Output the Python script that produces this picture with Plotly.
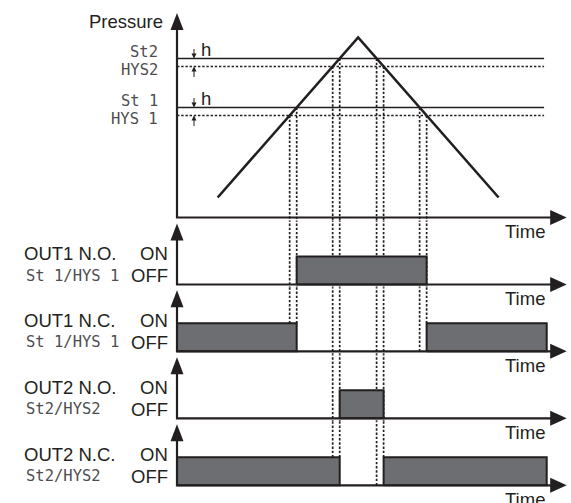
import plotly.graph_objects as go

# ---------------- data ----------------
ramp_time = [11.0, 49.0, 87.0]          # start, peak, end of the pressure ramp
ramp_pressure = [10.0, 90.0, 10.0]
st_levels = [55.0, 79.5]                # St1, St2
hys_levels = [51.0, 75.5]               # HYS1, HYS2
threshold_line_end = 99.3
time_end = 100.0
st_labels = ["St 1", "St2"]
hys_labels = ["HYS 1", "HYS2"]
output_names = ["OUT1 N.O.", "OUT1 N.C.", "OUT2 N.O.", "OUT2 N.C."]
output_params = ["St 1/HYS 1", "St 1/HYS 1", "St2/HYS2", "St2/HYS2"]
state_labels = ["ON", "OFF"]
axis_titles = ["Pressure", "Time", "h"]

# ---------------- layout constants (pixels) ----------------
W, H = 571, 503
X0_PX, PX_PER_T = 177.0, 3.697
PAD = 3.0
# (axis pixel row, pixels per unit)
panel_axis = [217.5, 284.5, 351.3, 418.3, 485.3]
panel_scale = [2.0, 28.0, 28.0, 28.0, 28.0]
INK = "#231f20"
BOX = "#6d6e71"
SEG = "#4d4d4f"
FONT = "Liberation Sans, Arial, sans-serif"
MONO = "DejaVu Sans Mono, monospace"
FS = 18.5
DOT = "2.4px,1.8px"
DOTW = 1.7

tops = [0.0] + [a + PAD for a in panel_axis[:-1]]
domains, yranges = [], []
for a, t, k in zip(panel_axis, tops, panel_scale):
    domains.append([1 - (a + PAD) / H, 1 - t / H])
    yranges.append([-PAD / k, (a - t) / k])

xrange_ = [-X0_PX / PX_PER_T, (W - X0_PX) / PX_PER_T]


def ax_names(i):
    return ("x", "y") if i == 0 else (f"x{i+1}", f"y{i+1}")


def px_y(i, y):
    return 1 - (panel_axis[i] - y * panel_scale[i]) / H


def px_x(t):
    return (X0_PX + t * PX_PER_T) / W


fig = go.Figure()


def add(i, **kw):
    xa, ya = ax_names(i)
    kw.setdefault("mode", "lines")
    kw.setdefault("hoverinfo", "skip")
    kw.setdefault("showlegend", False)
    fig.add_trace(go.Scatter(xaxis=xa, yaxis=ya, **kw))


# ---------------- derived events ----------------
t0, tp, te = ramp_time
p0, pp, _ = ramp_pressure


def rise(level):
    return t0 + (level - p0) / (pp - p0) * (tp - t0)


def fall(level):
    return tp + (pp - level) / (pp - p0) * (te - tp)


outputs = []
for st, hy in zip(st_levels, hys_levels):
    on, off = rise(st), fall(hy)
    outputs.append({"no": [(on, off)], "nc": [(0.0, on), (off, time_end)],
                    "events": [(rise(hy), hy), (on, st), (fall(st), st), (off, hy)]})

panel_states = [outputs[0]["no"], outputs[0]["nc"], outputs[1]["no"], outputs[1]["nc"]]
nc_panel = [2, 4]   # figure panel index of each output's N.C. chart


def state_at(intervals, t):
    return 1.0 if any(a - 1e-6 <= t <= b + 1e-6 for a, b in intervals) else 0.0


# ---------------- pressure panel ----------------
for hy in hys_levels:
    add(0, x=[0, threshold_line_end], y=[hy, hy], line=dict(color=INK, width=DOTW, dash=DOT))
for k, out in enumerate(outputs):
    for t, lvl in out["events"]:
        add(0, x=[t, t], y=[lvl, yranges[0][0] - 1], line=dict(color=INK, width=DOTW, dash=DOT))
for st in st_levels:
    add(0, x=[0, threshold_line_end], y=[st, st], line=dict(color=INK, width=1.6))
add(0, x=ramp_time, y=ramp_pressure, line=dict(color=INK, width=2.6))

# ---------------- output panels ----------------
for k, out in enumerate(outputs):
    for t, lvl in out["events"]:
        for i in range(1, nc_panel[k] + 1):
            lo = yranges[i][0] - 0.2
            if i == nc_panel[k]:
                lo = state_at(panel_states[i - 1], t)
            add(i, x=[t, t], y=[lo, yranges[i][1] + 0.2],
                line=dict(color=INK, width=DOTW, dash=DOT))

for i in range(1, 5):
    for a, b in panel_states[i - 1]:
        add(i, x=[a, a, b, b, a], y=[0, 1, 1, 0, 0], fill="toself",
            fillcolor=BOX, line=dict(color=INK, width=2))

# ---------------- axes with arrows ----------------
UP_TIP = [204.5, 61.0, 61.0, 61.0, 61.0]      # pixels above the axis
RIGHT_TIP_T = (566.7 - X0_PX) / PX_PER_T
shapes = []
for i in range(5):
    k = panel_scale[i]
    tip_y = UP_TIP[i] / k
    base_y = (UP_TIP[i] - 15) / k
    add(i, x=[0, 0, RIGHT_TIP_T - 14 / PX_PER_T], y=[base_y, 0, 0],
        line=dict(color=INK, width=2.2))
    shapes.append(dict(type="path", xref="paper", yref="paper", xsizemode="pixel",
                       ysizemode="pixel", xanchor=px_x(0), yanchor=px_y(i, tip_y),
                       path="M0,0 L-6.5,-17 L6.5,-17 Z", fillcolor=INK, line=dict(width=0)))
    shapes.append(dict(type="path", xref="paper", yref="paper", xsizemode="pixel",
                       ysizemode="pixel", xanchor=px_x(RIGHT_TIP_T), yanchor=px_y(i, 0),
                       path="M0,0 L-16.5,-7.5 L-16.5,7.5 Z", fillcolor=INK, line=dict(width=0)))

annotations = []
# Pressure label
annotations.append(dict(xref="x", yref="y", x=0, y=UP_TIP[0] / panel_scale[0], xshift=-12,
                        yshift=-8.5, xanchor="right", yanchor="middle", showarrow=False,
                        text=axis_titles[0], font=dict(family=FONT, size=FS, color=INK)))
# Time labels
for i in range(5):
    xa, ya = ax_names(i)
    annotations.append(dict(xref=xa, yref=ya, x=time_end, y=0, xanchor="right",
                            yanchor="middle", yshift=-14, showarrow=False,
                            text=axis_titles[1], font=dict(family=FONT, size=FS, color=INK)))
# threshold labels + hysteresis arrows
for st, hy, sl, hl in zip(st_levels, hys_levels, st_labels, hys_labels):
    annotations.append(dict(xref="x", yref="y", x=0, y=st, xshift=-17, yshift=7,
                            xanchor="right", yanchor="middle", showarrow=False, text=sl,
                            font=dict(family=MONO, size=15.5, color=SEG)))
    annotations.append(dict(xref="x", yref="y", x=0, y=hy, xshift=-17, yshift=-3,
                            xanchor="right", yanchor="middle", showarrow=False, text=hl,
                            font=dict(family=MONO, size=15.5, color=SEG)))
    h_t = (194 - X0_PX) / PX_PER_T
    annotations.append(dict(xref="x", yref="y", x=h_t, y=st, ax=0, ay=-11, text="",
                            showarrow=True, arrowhead=2, arrowsize=1, arrowwidth=1,
                            arrowcolor=INK, standoff=0))
    annotations.append(dict(xref="x", yref="y", x=h_t, y=hy, ax=0, ay=12, text="",
                            showarrow=True, arrowhead=2, arrowsize=1, arrowwidth=1,
                            arrowcolor=INK, standoff=0))
    annotations.append(dict(xref="x", yref="y", x=h_t, y=st, xshift=5, yshift=-3,
                            xanchor="left", yanchor="bottom", showarrow=False,
                            text=axis_titles[2], font=dict(family=FONT, size=FS, color=INK)))
# output labels
for i in range(1, 5):
    xa, ya = ax_names(i)
    annotations.append(dict(xref="paper", yref=ya, x=22 / W, y=1, yshift=3, xanchor="left",
                            yanchor="middle", showarrow=False, text=output_names[i - 1],
                            font=dict(family=FONT, size=FS, color=INK)))
    annotations.append(dict(xref="paper", yref=ya, x=24 / W, y=0, yshift=9, xanchor="left",
                            yanchor="middle", showarrow=False, text=output_params[i - 1],
                            font=dict(family=MONO, size=15.5, color=SEG)))
    annotations.append(dict(xref="paper", yref=ya, x=170 / W, y=1, yshift=3, xanchor="right",
                            yanchor="middle", showarrow=False, text=state_labels[0],
                            font=dict(family=FONT, size=FS, color=INK)))
    annotations.append(dict(xref="paper", yref=ya, x=170 / W, y=0, yshift=9, xanchor="right",
                            yanchor="middle", showarrow=False, text=state_labels[1],
                            font=dict(family=FONT, size=FS, color=INK)))

layout = dict(width=W, height=H, margin=dict(l=0, r=0, t=0, b=0),
              paper_bgcolor="white", plot_bgcolor="white", showlegend=False,
              shapes=shapes, annotations=annotations)
for i in range(5):
    xa, ya = ax_names(i)
    xkey = "xaxis" if i == 0 else f"xaxis{i+1}"
    ykey = "yaxis" if i == 0 else f"yaxis{i+1}"
    layout[xkey] = dict(domain=[0, 1], range=xrange_, visible=False, fixedrange=True,
                        anchor=ya)
    layout[ykey] = dict(domain=domains[i], range=yranges[i], visible=False,
                        fixedrange=True, anchor=xa)
fig.update_layout(**layout)

fig.write_html("out.html", config={"displayModeBar": False},
               post_script="document.body.style.margin='0';document.body.style.overflow='hidden';")
